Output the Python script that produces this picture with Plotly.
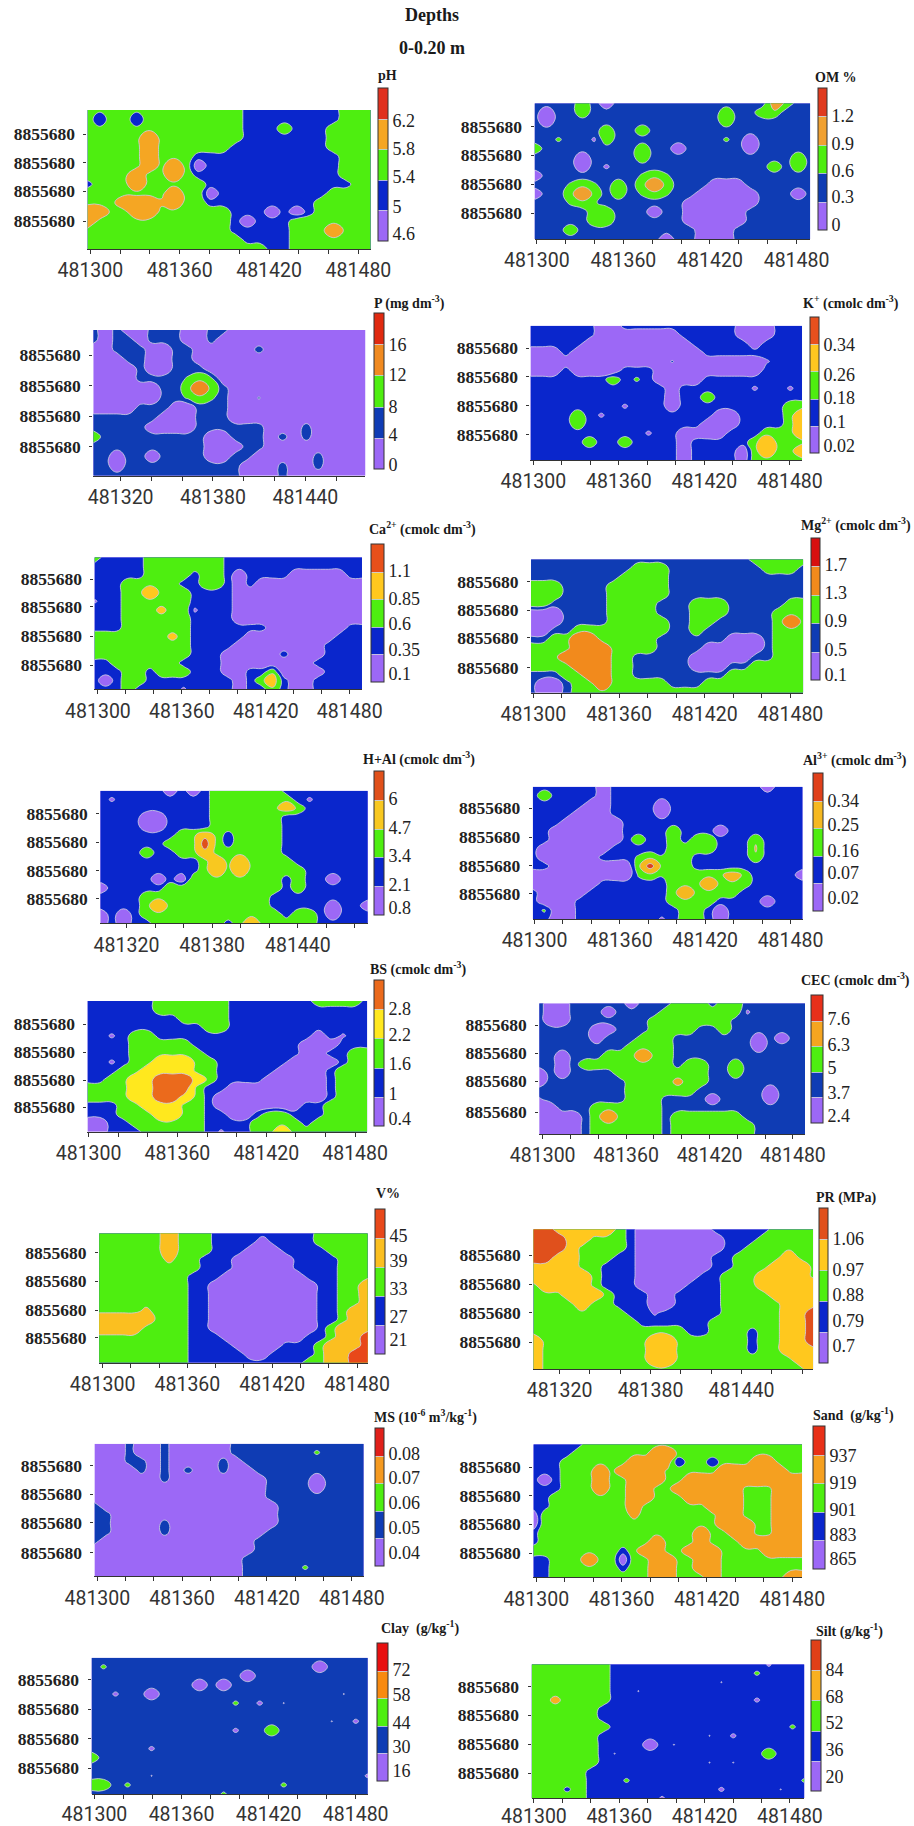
import plotly.graph_objects as go

# ---------------- data: class of each grid node (1 lowest .. 5 highest) ----------------
PH_GRID = ["3 k 3 3 k 33333333 22222222 333","3 B 3 3 B 33333333 22222222 333","3 k 3 3 k 33333333 222 3 222 3333","33333 4 3333333 2222222 3333",
"33333 4 333333 22222222 3333","33333 4 333 222222222222 333","33333 4 3 4 3 1 22222222222 333","3333 4 33 4 3 222222222222 333",
"2 333 4 33333 222222222222 33","3333333 4 33 1 222222222 3333","333 444 o 4 33 222222222 33333","44 33 44 333333 222 1 2 1 2 33333",
"4 33333333333 2 1 222 3333333","333333333333 22222 333 4 333","3333333333333 2222 3333333","333333333333333 22 3333333"]
OM_GRID = ["222232 1 2222222222222 43 22","21223 22222222222 3 22 33 222","21 22222222222222 3 2222222","222222 3 22 3 22222222222222",
"22g22a3 222222222 g 2 1 22222","3 22222222 3 22 1 22222 1 22222","2222 1 2222 3 222222222222 3 2","2222 1 2 a 2222222222222 3 2 3 2",
"1 22222222 g 3 g 222222222222","222 g 3 g 2 3 2 343 222 111 222222","1 22 343 2 3 2 g 3 g 22 11111 222 1 2","222 g 3 g 2222222 111111 22222",
"22222 33 222 1 22 11111 222222","22222 33 222222 11111 222222","222 3 2222222222 111 2222222","22222222222 1 22 111 2222222"]
P_GRID = ["2 1 2 1 1 222 1 1 22 111111111111","2 1 2 2 1 222 1 1 2 1111111111111","1 1 222 1 1 22 11111 2 111111111","111 22 11 22 111111111111111",
"1111 2 11 222 11111111111111","1111 2222 g 3 g 1111111111111","111111 22 343 2 111111111111","111111 22 g 3 g 2 11 c 111111111",
"1111 222 11 222 111111111111","222222 111 222 111111111111","22222 1111 222222 111 2 11111","3 222222222 11 222 1 2 1 2 11111",
"2222222222 111 22 111111111","22 1 22 1 2222 11 22 11111 2 1111","221 2222222222 111 2 11 2 1111","2222222222222 111 2 1111111"]
K_GRID = ["222222 11 2222222222 111 222","222222 1111111 22222 111 222","22222 111111111 22222 1 2222","111 2 11111111111 222222222",
"1111 11111111 c 1111111 a 222","111 2 1111 222 111111111 2222","2222222 3 2 g 2 1111 222222222","222222222222 1 222222 a 22 a 2",
"222222222222 1 22 3 22222222","22222222 a 222 1 222222222 33","2222 3 2 a 222222222 11 2222 34","2222 3 2222222222 111 2222 34",
"2222222222 a 22 1111 222 333 4","22222 3 22 3 2222 1 22222 34333","2222222222222 1 2222 1 34334","2222222222222 1 2222 1 33333"]
CA_GRID = ["3 2222 3333333 222222222222","22222 3333333 222222222222","22222 3333 2 33 2 1 2222 11111 2","222 33333 22 33 2 1 2 111111111",
"222 33 4 333 2222 11111111111","a 22 333333 2222 11111111111","222 333 o 33 a 222 11111111111","222 333333 2222 11111111111",
"222 333333 2222222 1111111 2","3333333 o 3 22222 11111111 22","333333333 2222 11111111 222","333333333 222 11111 2 111 222",
"22 333333 2222 11111111 2222","222 33 2 333 222 11 22 3 1 111 2222","2 1 2 33 22222222 1 2 3 4 2 11 2222","222 3 2222 a 2222 1 22 3 2 11 2222"]
MG_GRID = ["2222222222222222222 33333","222222222 333 22222222 333 2","22222222 3333 222222222222","333 2222 33333 222222222222",
"333 2222 33333 222222222222","33 22222 3333 222 333 22222 33","111 2222 3333 222 333 2222 333","111 2222 33333 22 33 22222 343",
"11 22 33333333 22 3 222222 333","22 33 44 33333 222222 111 2 333","3333 444 3333 2222 11111 2 333","333 4444 33 22222 11111 22 333",
"3333 444 33 22222 111 22 33333","222 33 44 33 22222222 3333333","2 11 2 33 4 33333 222 333333333","2 11 2 33333333333333333333"]
HAL_GRID = ["222222 1 2 1 2 333333 22222222","2 a 22222222 3333333 2 a 22222","2222222222 333333 4 3 222222","2222 11 2222 333333 22222222",
"2222 11 2222 333333 22222222","2222222 33 4 3 2 3333 22222222","222222 333 5 3 2 3333 22222222","2222 3 22 33 4 333333 22222222",
"222222222 3 4 3 4 3333 2222222","222222222 3 4 3 4 333 3 3 222222","22222 1 2 1 33333333 2 3 22 1 222","1 22222 3333333333 2 3 222222",
"2222 33333333333 222222222","2222 3 4 333333333 22222 1 22 1","1 2 1 2 333333333333 2 33 2 1 222","1 2 1 22 333333 2 3 4 333 33 22222"]
AL_GRID = ["222222 1 2222222222222 1 222","2 3 2222 1 22222222222222222","22222 11 2222 1 222222222222","2222 111 2222 1 222222222222",
"222 11111 2222222222222222","22 111111 2222 3 222 1 2222222","22 111111 2 3 22 3 2 33 222 3 2222","2 111111 22222 3333 222 o 2222",
"2 11111 222 g 3 g 33 22222 3 2222","22 1111111 3 5 3 33 2222222222","111111111 g 3 g 33333 4 3 2222 1","111111 222222 333 4 333 22222",
"2 1111 2222222 3 4 3333 222222","2 111 22222222 3333 2222 1 222","2 g 11 222222222 33 2 1 2222222","22 11 2222222 a 2 33 2 1 2222222"]
BS_GRID = ["222222 333333 2222222 3333 2","222222 333333 222222222222","22222222 3333 222222222222","2222222222 33 222222222222",
"22 a 2 33 2222222222222 1 2 a 22","2222 33333 222222222 111 222","2222 333333 22222222 11 22 33","22 a 2 33 444 33 222222 1111 2 33",
"222 33 4444 33 22222 1111 2 333","22 33 44 555 4 3 2222 11111 2 333","33 33 44 555 3 22 11111111 2 333","33 33 44 55 4 3 2 111111111 2 333",
"222 33 444 33 2 1111111 22 3333","222 333 44 33 22 11 2 33 222 3333","11 22 333333 2222 333 3 2 33333","11 222 33333 2 a 22 33 4 3 3 33333"]
CEC_GRID = ["2 11 22222 1 222 333 2 33 222222","2 11 222 1 2222 3333333 a 22222","2 11 2222222 3333333 2222222","22222 11 222 3333 22 3 2222222",
"22222 1 222 333 2222222 1 2 1 22","22222222 3333 2222222 1 2222","22 1 222 333 4 33 222222222222","22 1 2 33333333 2 33 22 3 222222",
"1 2 1 2222 33333333 22 3 222222","1 2222222 3333 o 33 222222222","22222222 333333 222222 1 222","a 2222222 333 2222 1 2222 1 222",
"11 222 333333 2222222222222","1111 2 3 4 3333 2 333333 222222","1111 2 333333 2 3333333 22222","1111 2 333333 2 3333333 22222"]
V_GRID = ["333333 4 333 222222222 33333","333333 4 333 2222 1 2222 33333","333333 4 333 222 111 2222 3333","333333 o 33 222 11111 2222 333",
"333333333 222 11111 2222 333","33333333 222 1111111 222 333","33333333 22 111111111 22 33 4","33333333 22 111111111 22 33 4",
"33333333 22 111111111 22 33 4","3333 o 333 22 111111111 22 3 44","44444 333 22 111111111 22 3 44","4444 3333 22 111111111 2 3 444",
"33333333 222 1111111 22 3 44 5","33333333 2222 1111 222 3 444 5","33333333 22222 11 2222 3 44 55","33333333 2222222222 33 44 55"]
PR_GRID = ["55 44444 3 2 111111 22222 3333","555 44 333 2 1111111 222 33333","555 4 3333 2 1111111 22 333333","55 44 333 22 111111 22 3333 4 33",
"4444 33 222 111111 22 333 444 3","44444 3 222 11111 22 333 4444 3","3 4444 3 222 1111 222 333 44444","333 444 3 222 11 2222 3333 4444",
"3333 4 33 222 11 2222 33333 444","33333333 22 a 22222 33333 44 5","333333333 222222 333333 44 5","3333333333333 22 333 2 33 44 5",
"4 333333333 44 333333 2 33 44 5","4 333333333 44 333333 2 33 444","4 333333333 44 3333333333 44","4 3333333333333333333333 4"]
MS_GRID = ["111 2 11 2 11111 222222222222","111 2 11 2 11111 2222222 g 2222","111 22 1 2 1111 2 1 22222222222","1111 2 1 2 1 2 11 2 11 2222222222",
"111111 2 11111111 2222 1 2222","111111111111111 2222 1 2222","111111111111111 222222222","2 111111111111111 22222222",
"22 11111111111111 22222222","22 1111 2 111111111 22222222","22 1111 2 11111111 222222222","2 1111111111111 2222222222",
"11111111111111 2222222222","1111111111111 22222222222","1111111111111 22222 g 22222","1111111111111 22222222222"]
SAND_GRID = ["22222 3333333333333333333","2222 3333333 44 3 k 33 k 3333333","222 333333 4444 B 33 B 333 44 33","222 333 4 3 4444 33333 444444 3",
"2 1 2 333 4 33 444 33 4444444444","222 333 4 33 44 33 444444 333 44","22 3333333 44 333 44444 333 44","22 3333333 4 333333 444 333 44",
"1 33333333 o 3333333 44 333 44","1 3333333333333333 444 33 44","2 33333333333333 4 33 44 33 44","2 3333333333 4 333 4 333 44444",
"33333333 2 3 44 33 444 3333 444","22 333 4 33 1 33 44 33 44 3333333","22 333333 2 33 44 33 44 3333333","22 333333333 44 333 4 333333 4"]
CLAY_GRID = ["222222222222222222222222","2g 22222222222222222 1 2222","2222222222222 1 2222222222","222222222 1 2 1 222222222222",
"22a 22 1 222222222222222 t 22","222222222222 g 2 a 2 t 2222222","222222222222222222222222","22222222222222222222 t 2 a 2",
"222222222222 a 22 3 22222222","222222222222222222222222","22222 a 222222222222222222","3 22222222222222222222222",
"222222222222222222222222","22222 t 22222222222222222 a","33 2 g 222222222222 g 2222222","22222222222 g 222222222222"]
SILT_GRID = ["3333333 2222222222222 a 222","3333333 222222222222 g 2222","3333333 222222222 t 2222222","3333333 22 t 22222222222222",
"33o3333 222222222222 a 2222","333333 222222222222222222","333333 222222222222222222","3333333 222222222222222 g 2",
"333333 222222222 t 2 a 222222","333333 2222 1 2 t 22222222222","333333 2 t 222222222222 3 222","333333 222222222 t 2 t 222222",
"33333 2222222222222222222","33333 222 g 22222222222222 g","333 b 3 22222222222 a 2222 t 22","33333 222222 a 222222222222"]

PH_TICKS = ["4.6","5","5.4","5.8","6.2"]
OM_TICKS = ["0","0.3","0.6","0.9","1.2"]
P_TICKS = ["0","4","8","12","16"]
K_TICKS = ["0.02","0.1","0.18","0.26","0.34"]
CA_TICKS = ["0.1","0.35","0.6","0.85","1.1"]
MG_TICKS = ["0.1","0.5","0.9","1.3","1.7"]
HAL_TICKS = ["0.8","2.1","3.4","4.7","6"]
AL_TICKS = ["0.02","0.07","0.16","0.25","0.34"]
BS_TICKS = ["0.4","1","1.6","2.2","2.8"]
CEC_TICKS = ["2.4","3.7","5","6.3","7.6"]
V_TICKS = ["21","27","33","39","45"]
PR_TICKS = ["0.7","0.79","0.88","0.97","1.06"]
MS_TICKS = ["0.04","0.05","0.06","0.07","0.08"]
SAND_TICKS = ["865","883","901","919","937"]
CLAY_TICKS = ["16","30","44","58","72"]
SILT_TICKS = ["20","36","52","68","84"]

NORTHING_LABEL = "8855680"
NODE_VALUE = {"1":0.6,"2":2,"3":3.3,"4":4.2,"5":5,"a":1.35,"t":1.47,"c":1.62,"g":2.65,"b":2.2,"B":1.55,"k":2.8,"o":3.65}

PURPLE, GREEN = "#9C68F6", "#4EEE10"
BLUE_A, BLUE_B = "#0A26CC", "#0F3CB4"

# layout, in the coordinates of the zoomed views: x view = 1568 wide, y view = 3x; dy = page offset of the view (px)
SX = 914/1568
SY = 1/3
W, H = 914, 1826
PANELS = [
 dict(grid=PH_GRID,ticks=PH_TICKS,title="pH",dy=0,plot=(150,636,330,747),x0=481300,t0=155,step=51.1,yt=(402,488,574,664),cb=(649,666,263,722),lab=(700,620,530,445,362),tp=(665,225),blue=BLUE_A,hi=("#F5A623","#E0301E")),
 dict(grid=OM_GRID,ticks=OM_TICKS,title="OM %",dy=0,plot=(917,1390,310,717),x0=481300,t0=921,step=49.5,yt=(380,465,552,640),cb=(1403,1418,263,688),lab=(672,590,510,430,347),tp=(1435,232),blue=BLUE_B,hi=("#F0A030","#E03A1E")),
 dict(grid=P_GRID,ticks=P_TICKS,title="P (mg dm<sup>-3</sup>)",dy=0,plot=(160,627,990,1427),x0=481320,t0=207,step=52.8,yt=(1065,1157,1248,1340),cb=(641,658,940,1407),lab=(1393,1303,1218,1125,1035),tp=(702,908),blue=BLUE_B,hi=("#F08A20","#E02A10")),
 dict(grid=K_GRID,ticks=K_TICKS,title="K<sup>+</sup> (cmolc dm<sup>-3</sup>)",dy=0,plot=(910,1376,977,1380),x0=481300,t0=915,step=48.9,yt=(1045,1130,1218,1305),cb=(1389,1405,952,1360),lab=(1338,1265,1192,1123,1035),tp=(1460,908),blue=BLUE_A,hi=("#FFC720","#E8501E")),
 dict(grid=CA_GRID,ticks=CA_TICKS,title="Ca<sup>2+</sup> (cmolc dm<sup>-3</sup>)",dy=500,plot=(162,621,172,568),x0=481300,t0=168,step=48,yt=(238,320,408,495),cb=(636,658,132,545),lab=(520,447,370,297,212),tp=(725,87),blue=BLUE_A,hi=("#FFC81E","#E8501A")),
 dict(grid=MG_GRID,ticks=MG_TICKS,title="Mg<sup>2+</sup> (cmolc dm<sup>-3</sup>)",dy=500,plot=(911,1378,178,578),x0=481300,t0=915,step=49,yt=(245,330,413,503),cb=(1391,1407,114,540),lab=(525,450,362,277,193),tp=(1468,72),blue=BLUE_B,hi=("#F28A1C","#D81010")),
 dict(grid=HAL_GRID,ticks=HAL_TICKS,title="H+Al (cmolc dm<sup>-3</sup>)",dy=500,plot=(172,631,872,1270),x0=481320,t0=217,step=49,yt=(942,1027,1112,1197),cb=(641,659,812,1243),lab=(1222,1152,1067,982,895),tp=(718,775),blue=BLUE_A,hi=("#F8C820","#E0501A")),
 dict(grid=AL_GRID,ticks=AL_TICKS,title="Al<sup>3+</sup> (cmolc dm<sup>-3</sup>)",dy=500,plot=(914,1377,860,1257),x0=481300,t0=917,step=48.8,yt=(925,1012,1097,1182),cb=(1394,1411,820,1235),lab=(1195,1120,1053,975,902),tp=(1467,778),blue=BLUE_A,hi=("#F5B820","#E0401A")),
 dict(grid=BS_GRID,ticks=BS_TICKS,title="BS (cmolc dm<sup>-3</sup>)",dy=950,plot=(150,630,153,545),x0=481300,t0=152,step=50.8,yt=(222,306,390,472),cb=(642,659,90,527),lab=(505,430,340,255,175),tp=(717,57),blue=BLUE_A,hi=("#FFE81E","#EB6A1C")),
 dict(grid=CEC_GRID,ticks=CEC_TICKS,title="CEC (cmolc dm<sup>-3</sup>)",dy=950,plot=(925,1381,160,552),x0=481300,t0=931,step=47.7,yt=(226,310,393,486),cb=(1391,1411,135,520),lab=(497,428,355,283,207),tp=(1468,87),blue=BLUE_B,hi=("#F5A520","#E8301A")),
 dict(grid=V_GRID,ticks=V_TICKS,title="V%",dy=950,plot=(170,631,850,1238),x0=481300,t0=176,step=48.5,yt=(908,993,1080,1163),cb=(643,660,778,1212),lab=(1168,1098,1015,933,857),tp=(665,730),blue=BLUE_A,hi=("#FBBF20","#E8481A")),
 dict(grid=PR_GRID,ticks=PR_TICKS,title="PR (MPa)",dy=950,plot=(915,1395,838,1257),x0=481320,t0=960,step=52,yt=(915,1002,1088,1177),cb=(1405,1421,773,1237),lab=(1185,1110,1035,958,865),tp=(1453,743),blue=BLUE_A,hi=("#FFC81E","#E0501C")),
 dict(grid=MS_GRID,ticks=MS_TICKS,title="MS (10<sup>-6</sup> m<sup>3</sup>/kg<sup>-1</sup>)",dy=1390,plot=(162,624,161,559),x0=481300,t0=167,step=48.5,yt=(228,313,398,488),cb=(644,660,113,527),lab=(487,413,337,263,190),tp=(730,80),blue=BLUE_B,hi=("#F59A20","#E0201A")),
 dict(grid=SAND_GRID,ticks=SAND_TICKS,title="Sand  (g/kg<sup>-1</sup>)",dy=1390,plot=(915,1376,163,562),x0=481300,t0=920,step=48.8,yt=(232,317,403,490),cb=(1394,1415,108,537),lab=(505,433,360,278,197),tp=(1465,72),blue=BLUE_A,hi=("#F5A020","#E83018")),
 dict(grid=CLAY_GRID,ticks=CLAY_TICKS,title="Clay  (g/kg<sup>-1</sup>)",dy=1390,plot=(157,631,803,1212),x0=481300,t0=162,step=49.8,yt=(870,958,1047,1135),cb=(646,665,760,1175),lab=(1143,1070,1000,915,838),tp=(722,713),blue=BLUE_B,hi=("#F88A10","#E81010"),xoff=-1),
 dict(grid=SILT_GRID,ticks=SILT_TICKS,title="Silt (g/kg<sup>-1</sup>)",dy=1390,plot=(912,1380,823,1225),x0=481300,t0=916,step=48.8,yt=(890,975,1063,1150),cb=(1392,1409,750,1203),lab=(1160,1080,997,920,838),tp=(1458,722),blue=BLUE_A,hi=("#F8B020","#E04018"),xoff=-4),
]

fig = go.Figure()
ann = []
layout = {}
for i, p in enumerate(PANELS):
    n = "" if i == 0 else str(i+1)
    X0, X1, Y0, Y1 = p["plot"]
    dy = p["dy"]
    m_per = 20/p["step"]                                   # metres per x-view pixel
    x_left = p["x0"] + (X0-p["t0"])*m_per
    x_right = p["x0"] + (X1-p["t0"])*m_per
    rows = [r.replace(" ", "") for r in p["grid"]]
    ncol = max(len(r) for r in rows)
    rows = [r.ljust(ncol, r[-1]) for r in rows]
    z = [[NODE_VALUE[c] for c in r] for r in rows]
    nrow = len(z)
    ylen = float(Y1-Y0)
    xs = [x_left + (x_right-x_left)*c/(ncol-1) for c in range(ncol)]
    ys = [ylen*(1-r/(nrow-1)) for r in range(nrow)]
    cols = [PURPLE, p["blue"], GREEN, p["hi"][0], p["hi"][1]]
    cs = []
    for k, c in enumerate(cols):
        cs += [[k/5, c], [(k+1)/5, c]]
    CX0, CX1, CY0, CY1 = p["cb"]
    tv = [5.5-5*(l-CY0)/(CY1-CY0) for l in p["lab"]]
    xa, ya = "x"+n, "y"+n
    fig.add_trace(go.Contour(
        x=xs, y=ys, z=z, zmin=0.5, zmax=5.5, xaxis=xa, yaxis=ya, autocontour=False,
        contours=dict(start=1.5, end=4.5, size=1, coloring="fill", showlines=True),
        line=dict(color="rgba(205,205,225,0.85)", width=1, smoothing=1.3),
        colorscale=cs, hoverinfo="skip",
        colorbar=dict(x=CX0*SX/W, xanchor="left", y=1-(CY0*SY+dy)/H, yanchor="top", xpad=0, ypad=0,
                      thickness=(CX1-CX0)*SX, thicknessmode="pixels", len=(CY1-CY0)*SY, lenmode="pixels",
                      outlinecolor="#333333", outlinewidth=1, borderwidth=0,
                      tickmode="array", tickvals=tv, ticktext=p["ticks"], ticks="", ticklen=0,
                      tickfont=dict(family="Liberation Serif", size=18, color="#222222")),
    ))
    tvx = []
    ttx = []
    k = 0
    v = p["x0"]
    while v <= x_right:
        tvx.append(v)
        ttx.append(str(v) if k % 3 == 0 else "")
        v += 20
        k += 1
    layout["xaxis"+n] = dict(domain=[X0*SX/W, X1*SX/W], range=[x_left, x_right], anchor=ya, tickmode="array",
                             tickvals=tvx, ticktext=ttx, ticks="outside", ticklen=4, tickwidth=1, tickcolor="#333333",
                             showline=True, linecolor="#333333", linewidth=1, showgrid=False, zeroline=False,
                             tickangle=0, ticklabelstandoff=p.get("xoff", 0),
                             tickfont=dict(family="Roboto", size=19.5, color="#333333"))
    layout["yaxis"+n] = dict(domain=[1-(Y1*SY+dy)/H, 1-(Y0*SY+dy)/H], range=[0, ylen], anchor=xa, tickmode="array",
                             tickvals=[Y1-t for t in p["yt"]], ticktext=[NORTHING_LABEL]*len(p["yt"]),
                             ticks="outside", ticklen=3, tickwidth=1, tickcolor="#333333", ticklabelstandoff=5,
                             showline=False, showgrid=False, zeroline=False,
                             tickfont=dict(family="Liberation Serif", size=17.5, color="#222222", weight="bold"))
    ann.append(dict(text=p["title"], x=p["tp"][0]*SX/W, y=1-(p["tp"][1]*SY+dy)/H, xref="paper", yref="paper",
                    xanchor="center", yanchor="middle", showarrow=False,
                    font=dict(family="Liberation Serif", size=14, color="#1a1a1a", weight="bold")))

for txt, yy in (("Depths", 15), ("0-0.20 m", 48)):
    ann.append(dict(text=txt, x=432/W, y=1-yy/H, xref="paper", yref="paper", xanchor="center", yanchor="middle",
                    showarrow=False, font=dict(family="Liberation Serif", size=18, color="#1a1a1a", weight="bold")))

fig.update_layout(width=W, height=H, margin=dict(l=0, r=0, t=0, b=0, autoexpand=False), paper_bgcolor="white", plot_bgcolor="white",
                  showlegend=False, annotations=ann, **layout)
fig.write_html("out.html", config=dict(displayModeBar=False),
               post_script="document.body.style.margin='0';document.documentElement.style.overflow='hidden';")
